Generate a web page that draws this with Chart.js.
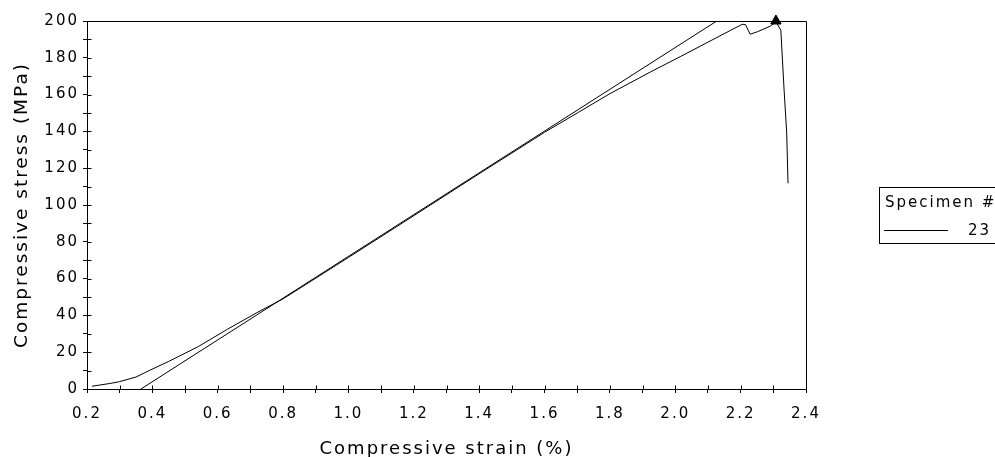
<!DOCTYPE html>
<html>
<head>
<meta charset="utf-8">
<script src="https://cdn.jsdelivr.net/npm/chart.js@4/dist/chart.umd.min.js"></script>
<style>
html, body { margin: 0; padding: 0; background: #fff; overflow: hidden; }
#wrap { position: relative; width: 995px; height: 457px; }
#legend { position: absolute; left: 879px; top: 187px; width: 140px; height: 57px;
  box-sizing: border-box; border: 1px solid #000; font: 15px "DejaVu Sans", sans-serif;
  letter-spacing: 2px; color: #000; white-space: nowrap; }
#legend .head { position: absolute; left: 5px; top: 5px; }
#legend .swatch { position: absolute; left: 4px; top: 42px; width: 64px; border-top: 1px solid #000; }
#legend .num { position: absolute; left: 88px; top: 33px; }
</style>
</head>
<body>
<div id="wrap">
  <canvas id="grafico" width="995" height="457"></canvas>
  <div id="legend">
    <span class="head">Specimen #</span>
    <span class="swatch"></span>
    <span class="num">23</span>
  </div>
</div>
<script>
// specimen 23 - stress/strain curve
var strain = [0.215, 0.27, 0.30, 0.35, 0.39, 0.45, 0.54, 0.63, 0.72, 0.80, 1.00, 1.20, 1.40, 1.60,
  1.70, 1.80, 1.925, 2.015, 2.10, 2.17, 2.205, 2.215, 2.229, 2.252, 2.292, 2.308, 2.323, 2.333, 2.341, 2.345];
var stress = [1.5, 3, 4, 6.5, 10, 15, 23, 32.5, 41.5, 49, 71.5, 94.2, 117, 139.5,
  150, 160.5, 172.4, 180.6, 188.5, 195, 198.2, 198, 192.8, 194.2, 197.3, 199.6, 195, 162.5, 139, 111.8];

// modulus line
var modStrain = [0.365, 2.127];
var modStress = [0, 200];

// peak marker
var peakStrain = [2.308];
var peakStress = [200];

var xTicks = [0.2, 0.3, 0.4, 0.5, 0.6, 0.7, 0.8, 0.9, 1.0, 1.1, 1.2, 1.3, 1.4, 1.5, 1.6, 1.7, 1.8, 1.9, 2.0, 2.1, 2.2, 2.3, 2.4];
var xLabels = ['0.2', '0.4', '0.6', '0.8', '1.0', '1.2', '1.4', '1.6', '1.8', '2.0', '2.2', '2.4'];
var yTicks = [0, 10, 20, 30, 40, 50, 60, 70, 80, 90, 100, 110, 120, 130, 140, 150, 160, 170, 180, 190, 200];
var yLabels = ['0', '20', '40', '60', '80', '100', '120', '140', '160', '180', '200'];

function pontos(xs, ys) {
  var out = [];
  for (var i = 0; i < xs.length; i++) out.push({x: xs[i], y: ys[i]});
  return out;
}

var espacamento = {
  id: 'espacamento',
  beforeLayout: function(chart) { chart.ctx.letterSpacing = '2px'; },
  beforeDraw: function(chart) { chart.ctx.letterSpacing = '2px'; }
};

var moldura = {
  id: 'moldura',
  afterDraw: function(chart) {
    var ctx = chart.ctx, a = chart.chartArea, x = chart.scales.x, y = chart.scales.y;
    var l = Math.round(a.left) + 0.5, r = Math.round(a.right) + 0.5;
    var t = Math.round(a.top) + 0.5, b = Math.round(a.bottom) + 0.5;
    ctx.save();
    ctx.strokeStyle = '#000';
    ctx.lineWidth = 1;
    ctx.beginPath();
    ctx.moveTo(l, t); ctx.lineTo(r, t); ctx.lineTo(r, b);
    xTicks.forEach(function(v) {
      var px = Math.round(x.getPixelForValue(v)) + 0.5;
      ctx.moveTo(px, b); ctx.lineTo(px, b - 4);
    });
    yTicks.forEach(function(v) {
      var py = Math.round(y.getPixelForValue(v)) + 0.5;
      ctx.moveTo(l, py); ctx.lineTo(l + 4, py);
    });
    ctx.stroke();
    ctx.restore();
  }
};

var fonteTick = {family: 'DejaVu Sans', size: 15};

new Chart(document.getElementById('grafico').getContext('2d'), {
  type: 'line',
  data: {
    datasets: [
      {data: pontos(strain, stress), borderColor: '#000', borderWidth: 1, pointRadius: 0, tension: 0},
      {data: pontos(modStrain, modStress), borderColor: '#000', borderWidth: 1, pointRadius: 0},
      {data: pontos(peakStrain, peakStress), showLine: false, pointStyle: 'triangle', pointRadius: 6,
        backgroundColor: '#000', borderColor: '#000', borderWidth: 1, clip: false}
    ]
  },
  options: {
    responsive: false,
    animation: false,
    layout: {padding: {left: 0, top: 21, right: 189, bottom: 0}},
    plugins: {legend: {display: false}, tooltip: {enabled: false}},
    scales: {
      x: {
        type: 'linear', min: 0.2, max: 2.4,
        afterBuildTicks: function(s) { s.ticks = xTicks.map(function(v) { return {value: v}; }); },
        afterFit: function(s) { s.height = 68; },
        ticks: {
          color: '#000', font: fonteTick, padding: 12, maxRotation: 0, autoSkip: false,
          callback: function(v) { var t = v.toFixed(1); return xLabels.indexOf(t) >= 0 ? t : ''; }
        },
        grid: {drawOnChartArea: false, tickLength: 4, color: '#000'},
        border: {color: '#000'},
        title: {display: true, text: 'Compressive strain (%)', color: '#000',
          font: {family: 'DejaVu Sans', size: 18}, padding: {top: 0, bottom: -3}}
      },
      y: {
        min: 0, max: 200,
        afterBuildTicks: function(s) { s.ticks = yTicks.map(function(v) { return {value: v}; }); },
        afterFit: function(s) { s.width = 87; },
        ticks: {
          color: '#000', font: fonteTick, padding: 4, autoSkip: false,
          callback: function(v) { var t = String(v); return yLabels.indexOf(t) >= 0 ? t : ''; }
        },
        grid: {drawOnChartArea: false, tickLength: 4, color: '#000'},
        border: {color: '#000'},
        title: {display: true, text: 'Compressive stress (MPa)', color: '#000',
          font: {family: 'DejaVu Sans', size: 18.5}, padding: {top: 11, bottom: 0}}
      }
    }
  },
  plugins: [espacamento, moldura]
});
</script>
</body>
</html>
